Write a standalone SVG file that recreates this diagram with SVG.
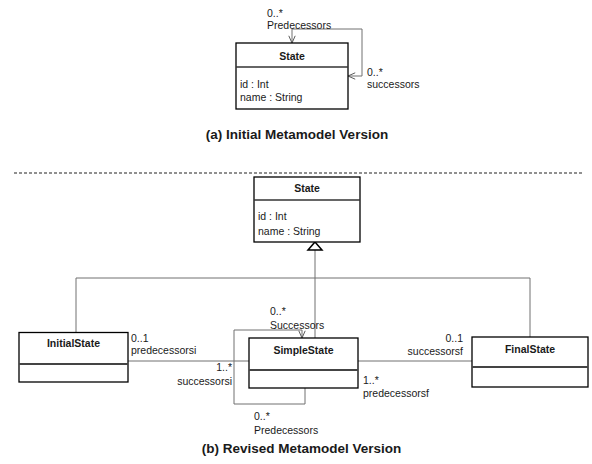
<svg xmlns="http://www.w3.org/2000/svg" width="592" height="464" viewBox="0 0 592 464">
<style>
text{font-family:"Liberation Sans",Arial,sans-serif;fill:#1a1a1a}
.lbl{font-size:10.5px}
.ttl{font-size:10.5px;font-weight:bold;text-anchor:middle}
.cap{font-size:13.5px;font-weight:bold;text-anchor:middle}
.box{fill:#fff;stroke:#000;stroke-width:1.3}
.div{stroke:#333;stroke-width:1.3}
.divb{stroke:#444;stroke-width:2}
.con{fill:none;stroke:#707070;stroke-width:1}
.end{text-anchor:end}
</style>
<defs>
<marker id="open" viewBox="0 0 10 10" refX="10" refY="5" markerWidth="8" markerHeight="8" markerUnits="userSpaceOnUse" orient="auto">
<path d="M1,1 L10,5 L1,9" fill="none" stroke="#555" stroke-width="1.2"/>
</marker>
</defs>
<rect width="592" height="464" fill="#fff"/>

<g id="connectors">
<path class="con" d="M292,29 L292,43" marker-end="url(#open)"/>
<path class="con" d="M292,29 L362,29 L362,76 L348,76" marker-end="url(#open)"/>
<path class="con" d="M315,250 L315,338"/>
<path class="con" d="M76,332 L76,278 L530,278 L530,337"/>
<path d="M315,242 L322,250 L308,250 Z" fill="#fff" stroke="#000" stroke-width="1.5"/>
<path class="con" d="M128,361 L249,361"/>
<path class="con" d="M358,361 L472,361"/>
<path class="con" d="M305,388 L305,404 L234,404 L234,330 L302,330 L302,338" marker-end="url(#open)"/>
<line x1="14" y1="173" x2="582" y2="173" stroke="#222" stroke-width="1.2" stroke-dasharray="3,2"/>
</g>

<g id="labels">
<text class="lbl" x="267" y="17">0..*</text>
<text class="lbl" x="267" y="28.5">Predecessors</text>
<text class="lbl" x="367" y="76">0..*</text>
<text class="lbl" x="367" y="87.5">successors</text>
<text class="cap" x="297" y="139">(a) Initial Metamodel Version</text>
<text class="lbl" x="270" y="315">0..*</text>
<text class="lbl" x="270" y="329">Successors</text>
<text class="lbl" x="254" y="420">0..*</text>
<text class="lbl" x="254" y="434">Predecessors</text>
<text class="lbl" x="131" y="342">0..1</text>
<text class="lbl" x="131" y="354">predecessorsi</text>
<text class="lbl end" x="232" y="371">1..*</text>
<text class="lbl end" x="232" y="385">successorsi</text>
<text class="lbl end" x="463" y="342">0..1</text>
<text class="lbl end" x="463" y="355">successorsf</text>
<text class="lbl" x="363" y="384">1..*</text>
<text class="lbl" x="363" y="397">predecessorsf</text>
<text class="cap" x="301.5" y="453">(b) Revised Metamodel Version</text>
</g>

<g id="stateA">
<rect class="box" x="236" y="43" width="112" height="66"/>
<line class="div" x1="236" y1="67" x2="348" y2="67"/>
<text class="ttl" x="292" y="60">State</text>
<text class="lbl" x="240" y="88">id : Int</text>
<text class="lbl" x="240" y="101">name : String</text>
</g>

<g id="stateB">
<rect class="box" x="254" y="177" width="106" height="65"/>
<line class="div" x1="254" y1="200" x2="360" y2="200"/>
<text class="ttl" x="307" y="192">State</text>
<text class="lbl" x="258" y="220">id : Int</text>
<text class="lbl" x="258" y="235">name : String</text>
</g>

<g id="initialState">
<rect class="box" x="19" y="332.5" width="109" height="49.5"/>
<line class="divb" x1="19" y1="364" x2="128" y2="364"/>
<text class="ttl" x="73.5" y="347">InitialState</text>
</g>

<g id="simpleState">
<rect class="box" x="249" y="338" width="109" height="50"/>
<line class="divb" x1="249" y1="370" x2="358" y2="370"/>
<text class="ttl" x="303.5" y="354">SimpleState</text>
</g>

<g id="finalState">
<rect class="box" x="472" y="337" width="116" height="50"/>
<line class="divb" x1="472" y1="367" x2="588" y2="367"/>
<text class="ttl" x="530" y="353">FinalState</text>
</g>
</svg>
